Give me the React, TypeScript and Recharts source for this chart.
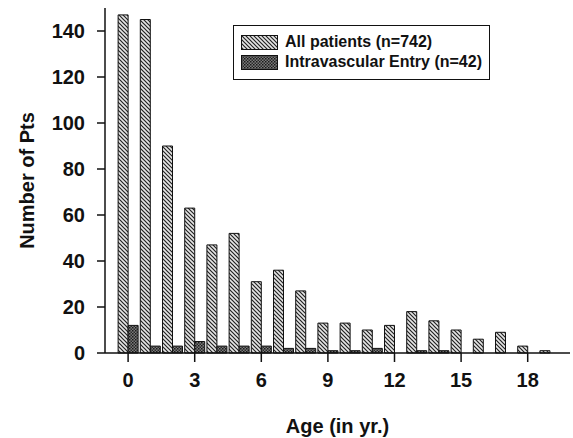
import { Bar, BarChart, XAxis, YAxis } from 'recharts';

const ages = ['0', '1', '2', '3', '4', '5', '6', '7', '8', '9', '10', '11', '12', '13', '14', '15', '16', '17', '18', '19'];
const allPatients = [147, 145, 90, 63, 47, 52, 31, 36, 27, 13, 13, 10, 12, 18, 14, 10, 6, 9, 3, 1];
const intravascular = [12, 3, 3, 5, 3, 3, 3, 2, 2, 1, 1, 2, 0, 1, 1, 0, 0, 0, 0, 0];
const yTicks = [0, 20, 40, 60, 80, 100, 120, 140];
const seriesNames = ['All patients (n=742)', 'Intravascular Entry (n=42)'];

const data = ages.map((age, i) => ({ age, all: allPatients[i], iv: intravascular[i] }));

const font = '"Liberation Sans", Arial, sans-serif';

function Swatch({ fill }: { fill: string }) {
  return (
    <svg width={37} height={15} style={{ display: 'block' }}>
      <rect x={0.5} y={0.5} width={36} height={14} fill={fill} stroke="#111" strokeWidth={1} />
    </svg>
  );
}

// drawn over the chart so it doesn't push the plot area down
function LegendBox() {
  const fills = ['url(#hatchAll)', 'url(#hatchIv)'];
  return (
    <div
      style={{
        position: 'absolute',
        left: 233,
        top: 25,
        border: '1.5px solid #111',
        width: 248,
        height: 47,
        padding: '6px 0 0 7px',
        fontFamily: font,
        fontWeight: 'bold',
        fontSize: 16,
        color: '#111',
        background: '#fff',
      }}
    >
      {seriesNames.map((name, i) => (
        <div key={name} style={{ display: 'flex', alignItems: 'center', height: 20 }}>
          <Swatch fill={fills[i]} />
          <span style={{ marginLeft: 7 }}>{name}</span>
        </div>
      ))}
    </div>
  );
}

export default function App() {
  return (
    <div style={{ position: 'absolute', left: 0, top: 0, background: '#fff' }}>
      <BarChart
        width={573}
        height={438}
        data={data}
        margin={{ top: 8, right: 3, bottom: 15, left: 0 }}
        barCategoryGap="5%"
        barGap={0}
      >
        <defs>
          <pattern id="hatchAll" patternUnits="userSpaceOnUse" width={4} height={4}>
            <rect width={4} height={4} fill="#e6e6e6" />
            <path d="M-1,-1 L5,5 M-1,3 L1,5 M3,-1 L5,1" stroke="#222" strokeWidth={1.2} />
          </pattern>
          <pattern id="hatchIv" patternUnits="userSpaceOnUse" width={3} height={3}>
            <rect width={3} height={3} fill="#7a7a7a" />
            <rect width={1.5} height={1.5} fill="#1a1a1a" />
            <rect x={1.5} y={1.5} width={1.5} height={1.5} fill="#2a2a2a" />
          </pattern>
        </defs>
        <XAxis
          dataKey="age"
          interval={2}
          height={70}
          padding={{ left: 12, right: 9 }}
          axisLine={{ stroke: '#111', strokeWidth: 1.5 }}
          tickLine={{ stroke: '#111', strokeWidth: 1.5 }}
          tickSize={9}
          tickMargin={11}
          tick={{ fill: '#111', fontSize: 20, fontWeight: 'bold', fontFamily: font }}
          label={{
            value: 'Age (in yr.)',
            position: 'insideBottom',
            offset: -10,
            fill: '#111',
            fontSize: 20,
            fontWeight: 'bold',
            fontFamily: font,
          }}
        />
        <YAxis
          domain={[0, 150]}
          ticks={yTicks}
          width={105}
          axisLine={{ stroke: '#111', strokeWidth: 1.5 }}
          tickLine={{ stroke: '#111', strokeWidth: 1.5 }}
          tickSize={8}
          tickMargin={12}
          tick={{ fill: '#111', fontSize: 20, fontWeight: 'bold', fontFamily: font }}
          label={{
            value: 'Number of Pts',
            angle: -90,
            position: 'center',
            dx: -26,
            fill: '#111',
            fontSize: 20,
            fontWeight: 'bold',
            fontFamily: font,
          }}
        />
        <Bar dataKey="all" name={seriesNames[0]} fill="url(#hatchAll)" stroke="#111" strokeWidth={1} isAnimationActive={false} />
        <Bar dataKey="iv" name={seriesNames[1]} fill="url(#hatchIv)" stroke="#111" strokeWidth={1} isAnimationActive={false} />
      </BarChart>
      <LegendBox />
    </div>
  );
}
